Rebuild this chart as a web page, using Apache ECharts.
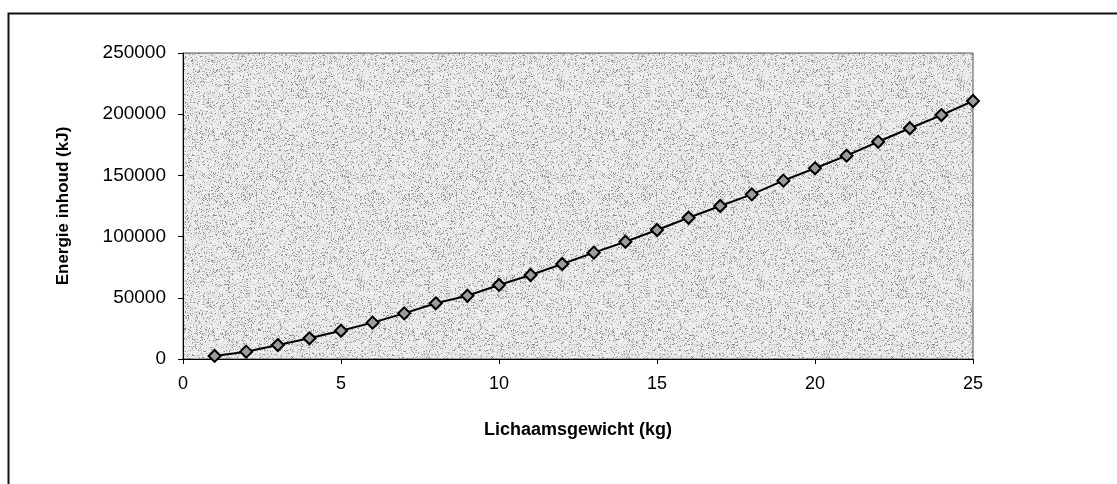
<!DOCTYPE html>
<html>
<head>
<meta charset="utf-8">
<style>
  html, body { margin: 0; padding: 0; background: #ffffff; }
  #chart { width: 1117px; height: 484px; }
</style>
<script src="https://cdn.jsdelivr.net/npm/echarts@6/dist/echarts.min.js"></script>
</head>
<body>
<div id="chart"></div>
<script>
// Body weight (kg) and total energy content (kJ)
const weightKg = [1, 2, 3, 4, 5, 6, 7, 8, 9, 10, 11, 12, 13, 14, 15, 16, 17, 18, 19, 20, 21, 22, 23, 24, 25];
const energyKJ = [2500, 6000, 11400, 16900, 23100, 29700, 37300, 45500, 51700, 60500,
                  68600, 77600, 86900, 95800, 105400, 115400, 125000, 134500, 145700, 155800,
                  166100, 177500, 188500, 199300, 210800];

const xTitle = 'Lichaamsgewicht (kg)';
const yTitle = 'Energie inhoud (kJ)';

const points = weightKg.map((w, i) => [w, energyKJ[i]]);

// Fine grey speckle used as the plot-area fill
function stipple() {
  const size = 200;
  const c = document.createElement('canvas');
  c.width = size; c.height = size;
  const g = c.getContext('2d');
  g.fillStyle = '#e8e8e8';
  g.fillRect(0, 0, size, size);
  let s = 123456789;
  const rnd = () => {
    s ^= s << 13; s ^= s >>> 17; s ^= s << 5;
    return ((s >>> 0) % 100000) / 100000;
  };
  for (let y = 0; y < size; y++) {
    for (let x = 0; x < size; x++) {
      const r = rnd();
      if (r < 0.09) { g.fillStyle = '#909090'; g.fillRect(x, y, 1, 1); }
      else if (r < 0.22) { g.fillStyle = '#c4c4c4'; g.fillRect(x, y, 1, 1); }
      else if (r < 0.40) { g.fillStyle = '#f6f6f6'; g.fillRect(x, y, 1, 1); }
    }
  }
  return c;
}

const chart = echarts.init(document.getElementById('chart'), null, { renderer: 'canvas' });
const font = 'Liberation Sans, Arial, sans-serif';

chart.setOption({
  animation: false,
  backgroundColor: '#ffffff',
  grid: {
    left: 183, top: 53, width: 790, height: 306,
    show: true,
    backgroundColor: { image: stipple(), repeat: 'repeat' },
    borderColor: '#555555',
    borderWidth: 1
  },
  graphic: [{
    type: 'rect',
    shape: { x: 8.5, y: 13.5, width: 1130, height: 490 },
    style: { fill: 'none', stroke: '#111111', lineWidth: 2 },
    silent: true
  }],
  xAxis: {
    type: 'value',
    min: 0, max: 25, interval: 5,
    name: xTitle,
    nameLocation: 'middle',
    nameGap: 62,
    nameTextStyle: { fontFamily: font, fontSize: 18, fontWeight: 'bold', color: '#000' },
    axisLine: { show: true, lineStyle: { color: '#000', width: 1 } },
    axisTick: { show: true, length: 5, inside: false, lineStyle: { color: '#000' } },
    axisLabel: { fontFamily: font, fontSize: 18, color: '#000', margin: 16 },
    splitLine: { show: false }
  },
  yAxis: {
    type: 'value',
    min: 0, max: 250000, interval: 50000,
    name: yTitle,
    nameLocation: 'middle',
    nameGap: 111,
    nameRotate: 90,
    nameTextStyle: { fontFamily: font, fontSize: 17, fontWeight: 'bold', color: '#000' },
    axisLine: { show: true, lineStyle: { color: '#000', width: 1 } },
    axisTick: { show: true, length: 5, inside: false, lineStyle: { color: '#000' } },
    axisLabel: {
      fontFamily: font, fontSize: 19, color: '#000', margin: 17,
      formatter: (v) => String(v)
    },
    splitLine: { show: false }
  },
  series: [{
    type: 'line',
    data: points,
    symbol: 'diamond',
    symbolSize: 12,
    itemStyle: { color: '#9c9c9c', borderColor: '#000', borderWidth: 2 },
    lineStyle: { color: '#000', width: 2 },
    clip: false
  }]
});
</script>
</body>
</html>
